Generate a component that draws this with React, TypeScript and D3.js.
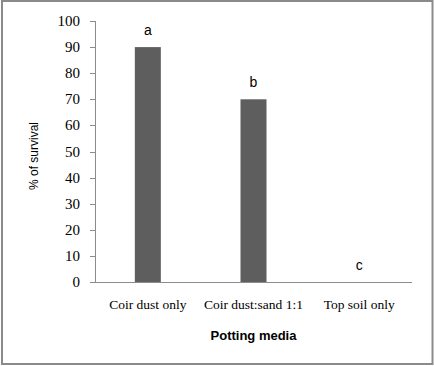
import React from "react";
import * as d3 from "d3";

const categories = ["Coir dust only", "Coir dust:sand 1:1", "Top soil only"];
const survival = [90, 70, 0];
const letters = ["a", "b", "c"];
const yTicks = [0, 10, 20, 30, 40, 50, 60, 70, 80, 90, 100];

export default function App() {
  const W = 434, H = 366;
  const left = 95, right = 412, top = 21, bottom = 282;
  const x = d3.scaleBand<string>().domain(categories).range([left, right]).paddingInner(0).paddingOuter(0);
  const y = d3.scaleLinear().domain([0, 100]).range([bottom, top]);
  const barW = 26;
  const axisColor = "#8c8c8c";
  return (
    <svg width={W} height={H} style={{ position: "absolute", left: 0, top: 0 }}>
      <rect x={0} y={0} width={W} height={H} fill="#fff" />
      <rect x={2} y={1} width={W - 3.5} height={H - 3} fill="none" stroke="#8a8a8a" strokeWidth={2} />
      {categories.map((c, i) => {
        const cx = (x(c) as number) + x.bandwidth() / 2;
        return (
          <g key={c}>
            {survival[i] > 0 && (
              <rect x={cx - barW / 2} y={y(survival[i])} width={barW} height={bottom - y(survival[i])} fill="#5e5e5e" />
            )}
            <text x={cx} y={y(survival[i]) - 12} textAnchor="middle" fontFamily="Liberation Sans, Arial, sans-serif" fontSize={14} fill="#000">
              {letters[i]}
            </text>
            <text x={cx} y={309} textAnchor="middle" fontFamily="Liberation Serif, Times New Roman, serif" fontSize={13.5} fill="#000">
              {c}
            </text>
          </g>
        );
      })}
      <line x1={left + 0.5} x2={left + 0.5} y1={top} y2={bottom} stroke={axisColor} />
      <line x1={left - 5} x2={right} y1={bottom + 0.5} y2={bottom + 0.5} stroke={axisColor} />
      {yTicks.map((t) => (
        <g key={t}>
          <line x1={left - 5} x2={left} y1={Math.round(y(t)) + 0.5} y2={Math.round(y(t)) + 0.5} stroke={axisColor} />
          <text x={80} y={y(t) + 5} textAnchor="end" fontFamily="Liberation Serif, Times New Roman, serif" fontSize={15} fill="#000">
            {t}
          </text>
        </g>
      ))}
      <text transform="translate(38,156) rotate(-90)" textAnchor="middle" fontFamily="Liberation Sans, Arial, sans-serif" fontSize={12} fill="#000">
        % of survival
      </text>
      <text x={(left + right) / 2} y={340} textAnchor="middle" fontFamily="Liberation Sans, Arial, sans-serif" fontWeight="bold" fontSize={13} fill="#000">
        Potting media
      </text>
    </svg>
  );
}
